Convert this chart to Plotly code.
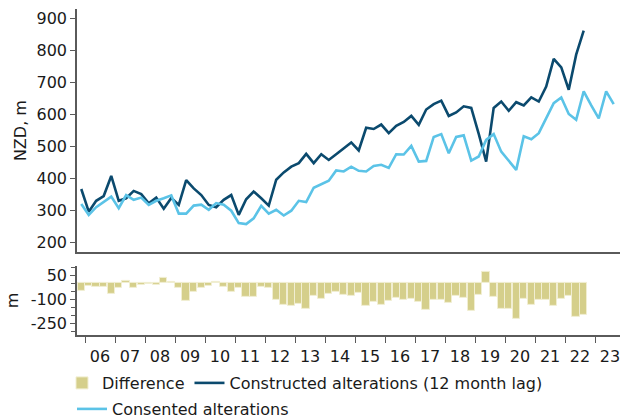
import pandas as pd
import plotly.graph_objects as go

# Quarterly series, starting 2005 Q4
start_quarter = "2005Q4"

constructed = [367, 296, 330, 345, 408, 330, 338, 361, 351, 322, 340, 305, 339, 317, 395, 369,
               348, 317, 310, 333, 348, 286, 335, 359, 338, 315, 396, 419, 437, 448, 477, 448,
               476, 458, 476, 494, 513, 488, 559, 555, 569, 542, 565, 577, 596, 568, 616, 633,
               644, 596, 607, 626, 621, 540, 453, 621, 641, 612, 639, 629, 654, 641, 688, 775,
               748, 678, 788, 863]

consented = [320, 286, 310, 327, 343, 307, 348, 333, 340, 317, 330, 338, 347, 290, 290, 315,
             318, 302, 323, 318, 299, 260, 257, 275, 314, 290, 302, 284, 299, 330, 326, 371,
             383, 393, 425, 422, 437, 424, 422, 439, 443, 433, 476, 475, 502, 453, 455, 530,
             539, 479, 530, 535, 456, 469, 521, 539, 484, 455, 427, 532, 523, 542, 591, 636,
             654, 602, 584, 673, 629, 588, 673, 633]

difference = [-50, -15, -23, -23, -67, -27, 12, -29, -10, -4, -12, 33, 8, -27, -108, -56,
              -31, -17, 10, -21, -52, -27, -83, -83, -21, -27, -104, -137, -139, -127, -158, -79,
              -96, -67, -52, -71, -79, -62, -139, -117, -131, -112, -92, -104, -96, -117, -165, -104,
              -104, -121, -81, -92, -169, -71, 71, -83, -158, -158, -219, -96, -133, -104, -102, -141,
              -94, -77, -206, -194]

names = ["Difference", "Constructed alterations (12 month lag)", "Consented alterations"]


def quarter_mid(n):
    periods = pd.period_range(start_quarter, periods=n, freq="Q")
    return [p.start_time + (p.end_time - p.start_time) / 2 for p in periods]


FONT = "DejaVu Sans, Verdana, sans-serif"
TXT = "#1a1a1a"
AX = "#5a5a5a"
DARK = "#0b4a6e"
LIGHT = "#5bc3e7"
BAR = "#d5cf8b"

fig = go.Figure()
fig.add_trace(go.Bar(x=quarter_mid(len(difference)), y=difference, name=names[0],
                     marker=dict(color=BAR, line=dict(color="#f1eed2", width=1)),
                     xaxis="x2", yaxis="y2", legend="legend"))
fig.add_trace(go.Scatter(x=quarter_mid(len(constructed)), y=constructed, name=names[1],
                         mode="lines", line=dict(color=DARK, width=2.6),
                         xaxis="x", yaxis="y", legend="legend"))
fig.add_trace(go.Scatter(x=quarter_mid(len(consented)), y=consented, name=names[2],
                         mode="lines", line=dict(color=LIGHT, width=2.6),
                         xaxis="x", yaxis="y", legend="legend2"))

xrange = ["2005-09-25", "2023-11-01"]

legend_common = dict(orientation="h", xref="container", yref="container",
                     xanchor="left", yanchor="middle",
                     font=dict(size=16, color=TXT), itemwidth=30, traceorder="normal",
                     bgcolor="rgba(0,0,0,0)")

fig.update_layout(
    width=622, height=419,
    margin=dict(l=77, r=2, t=9, b=84),
    paper_bgcolor="white", plot_bgcolor="white",
    font=dict(family=FONT, size=16, color=TXT),
    bargap=0,
    showlegend=True,
    legend=dict(legend_common, x=62 / 622, y=1 - 383 / 419),
    legend2=dict(legend_common, x=72 / 622, y=1 - 409 / 419),
    xaxis=dict(type="date", range=xrange, domain=[0, 1], anchor="y", automargin=False,
               showticklabels=False, ticks="", showline=True, linecolor=AX, linewidth=1.5,
               showgrid=False, zeroline=False, matches="x2"),
    yaxis=dict(range=[169, 931], domain=[0.254, 1], anchor="x", automargin=False,
               tickvals=[200, 300, 400, 500, 600, 700, 800, 900],
               ticks="outside", ticklen=5, tickcolor=AX, tickwidth=1.2,
               showline=True, linecolor=AX, linewidth=1.5,
               showgrid=False, zeroline=False,
               title=dict(text="NZD, m", standoff=6, font=dict(size=16)),
               tickfont=dict(size=16)),
    xaxis2=dict(type="date", range=xrange, domain=[0, 1], anchor="y2", automargin=False,
                dtick="M12", tick0="2006-01-01", tickformat="%y", ticklabelmode="period",
                ticks="outside", ticklen=6, tickcolor=AX, tickwidth=1.2,
                showline=True, linecolor=AX, linewidth=1.5,
                showgrid=False, zeroline=False, tickfont=dict(size=16)),
    yaxis2=dict(range=[-321, 108], domain=[0, 0.212], anchor="x2", automargin=False,
                tickvals=[50, -100, -250], ticktext=["50", "-100", "-250"],
                ticks="outside", ticklen=5, tickcolor=AX, tickwidth=1.2,
                minor=dict(tickvals=[100, 0, -50, -150, -200, -300], ticks="outside",
                           ticklen=4, tickcolor=AX, tickwidth=1.2, showgrid=False),
                showline=True, linecolor=AX, linewidth=1.5,
                showgrid=False, zeroline=False,
                title=dict(text="m", standoff=8, font=dict(size=16)),
                tickfont=dict(size=16)),
)

fig.write_html("out.html", config={"displayModeBar": False},
               post_script="document.body.style.margin='0';document.body.style.padding='0';")
